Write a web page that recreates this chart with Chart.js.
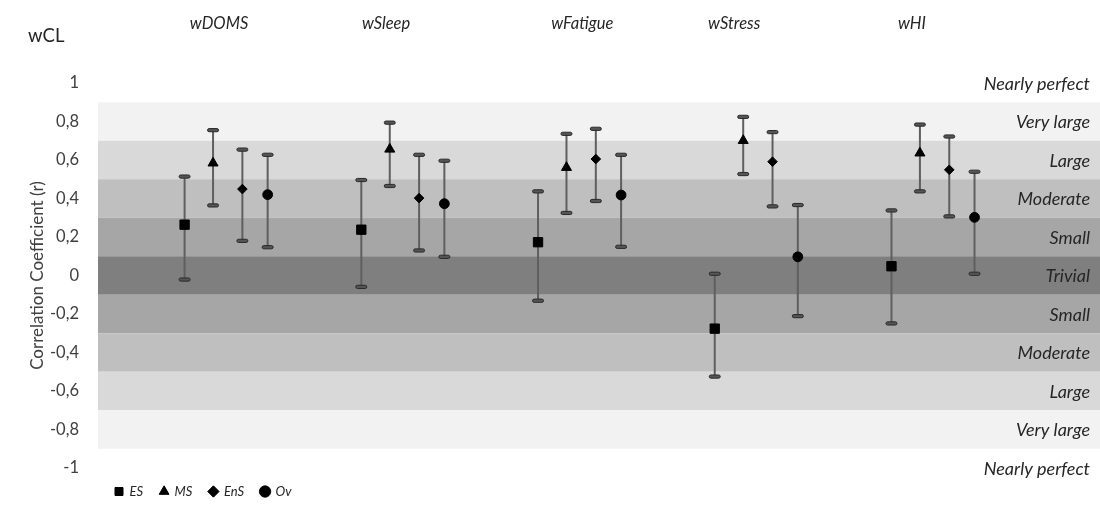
<!DOCTYPE html>
<html><head><meta charset="utf-8">
<script src="https://cdn.jsdelivr.net/npm/chart.js@4.4.1/dist/chart.umd.min.js"></script>
<style>html,body{margin:0;padding:0;background:#fff;}#wrap{width:1100px;height:508px;position:relative;}</style>
</head><body><div id="wrap"><canvas id="c"></canvas></div>
<script>
// ---- data ----
const categories = ['wDOMS', 'wSleep', 'wFatigue', 'wStress', 'wHI'];
const seriesNames = ['ES', 'MS', 'EnS', 'Ov'];
const esVals  = [0.264, 0.238, 0.173, -0.276, 0.048];
const esLow   = [-0.021, -0.059, -0.131, -0.525, -0.249];
const esHigh  = [0.514, 0.496, 0.437, 0.009, 0.338];
const msVals  = [0.584, 0.656, 0.561, 0.701, 0.636];
const msLow   = [0.364, 0.465, 0.325, 0.527, 0.437];
const msHigh  = [0.755, 0.794, 0.736, 0.824, 0.784];
const ensVals = [0.449, 0.402, 0.605, 0.591, 0.549];
const ensLow  = [0.180, 0.130, 0.387, 0.359, 0.307];
const ensHigh = [0.654, 0.627, 0.762, 0.745, 0.722];
const ovVals  = [0.420, 0.373, 0.418, 0.097, 0.302];
const ovLow   = [0.147, 0.097, 0.149, -0.211, 0.009];
const ovHigh  = [0.627, 0.596, 0.627, 0.366, 0.539];
const yTickValues = [1, 0.8, 0.6, 0.4, 0.2, 0, -0.2, -0.4, -0.6, -0.8, -1];
const bandEdges = [0.9, 0.7, 0.5, 0.3, 0.1, -0.1, -0.3, -0.5, -0.7, -0.9];
const bandLabels = ['Nearly perfect', 'Very large', 'Large', 'Moderate', 'Small', 'Trivial', 'Small', 'Moderate', 'Large', 'Very large', 'Nearly perfect'];
const bandLabelValues = [1, 0.8, 0.6, 0.4, 0.2, 0, -0.2, -0.4, -0.6, -0.8, -1];
const cornerLabel = 'wCL';
const yTitle = 'Correlation Coefficient (r)';

// ---- layout / style ----
const seriesOffsets = [0, 0.161, 0.327, 0.47];
const headerOffsets = [0.195, 0.14, 0.25, 0.11, 0.116];
const bandColors = ['#f2f2f2', '#d9d9d9', '#bfbfbf', '#a6a6a6', '#7f7f7f', '#a6a6a6', '#bfbfbf', '#d9d9d9', '#f2f2f2'];
const pointStyles = ['rect', 'triangle', 'rectRot', 'circle'];
const pointRadii = [6.6, 5.8, 4.8, 4.9];
const FONT = 'Lato, "Open Sans", sans-serif';

const vals = [esVals, msVals, ensVals, ovVals];
const lows = [esLow, msLow, ensLow, ovLow];
const highs = [esHigh, msHigh, ensHigh, ovHigh];

const datasets = seriesNames.map((name, s) => ({
  label: name,
  data: categories.map((c, g) => ({x: g + seriesOffsets[s], y: vals[s][g]})),
  pointStyle: pointStyles[s],
  pointRadius: pointRadii[s],
  pointHoverRadius: pointRadii[s],
  backgroundColor: '#000',
  borderColor: '#000',
  borderWidth: 1,
  showLine: false
}));

const fmt = v => {
  const r = Math.round(v * 10) / 10;
  if (Number.isInteger(r)) return String(r);
  return r.toFixed(1).replace('.', ',');
};

const decor = {
  id: 'decor',
  beforeDatasetsDraw(chart) {
    const {ctx, chartArea: a, scales: {x, y}} = chart;
    ctx.save();
    for (let i = 0; i < bandEdges.length - 1; i++) {
      const t = y.getPixelForValue(bandEdges[i]);
      const b = y.getPixelForValue(bandEdges[i + 1]);
      ctx.fillStyle = bandColors[i];
      ctx.fillRect(a.left, t, a.right - a.left, b - t);
    }
    ctx.font = 'italic 18px ' + FONT;
    ctx.fillStyle = '#262626';
    ctx.textAlign = 'right';
    ctx.textBaseline = 'middle';
    bandLabels.forEach((s, i) => ctx.fillText(s, a.right - 10, y.getPixelForValue(bandLabelValues[i]) + 1));
    // error bars
    for (let s = 0; s < seriesNames.length; s++) {
      categories.forEach((c, g) => {
        const px = x.getPixelForValue(g + seriesOffsets[s]);
        const pl = y.getPixelForValue(lows[s][g]);
        const ph = y.getPixelForValue(highs[s][g]);
        ctx.strokeStyle = '#5f5f5f';
        ctx.lineWidth = 2;
        ctx.beginPath();
        ctx.moveTo(px, ph);
        ctx.lineTo(px, pl);
        ctx.stroke();
        [pl, ph].forEach(py => {
          ctx.beginPath();
          ctx.roundRect(px - 5.5, py - 1.6, 11, 3.2, 1.6);
          ctx.fillStyle = '#555555';
          ctx.fill();
          ctx.lineWidth = 1;
          ctx.strokeStyle = '#2a2a2a';
          ctx.stroke();
        });
      });
    }
    ctx.restore();
  },
  afterDraw(chart) {
    const {ctx, scales: {x}} = chart;
    ctx.save();
    ctx.fillStyle = '#262626';
    ctx.textBaseline = 'alphabetic';
    ctx.textAlign = 'center';
    ctx.font = 'italic 16.5px ' + FONT;
    categories.forEach((c, g) => ctx.fillText(c, x.getPixelForValue(g + headerOffsets[g]), 29));
    ctx.textAlign = 'left';
    ctx.font = '18.5px ' + FONT;
    ctx.fillText(cornerLabel, 28, 42);
    ctx.restore();
  }
};

new Chart(document.getElementById('c'), {
  type: 'scatter',
  data: {datasets},
  plugins: [decor],
  options: {
    responsive: true,
    maintainAspectRatio: false,
    animation: false,
    events: [],
    layout: {autoPadding: false, padding: {top: 83, right: 0, left: 0, bottom: 0}},
    scales: {
      x: {type: 'linear', display: false, min: -0.49, max: 5.18},
      y: {
        type: 'linear', min: -1, max: 1,
        afterFit: s => { s.width = 98; },
        afterBuildTicks: s => { s.ticks = yTickValues.map(v => ({value: v})); },
        grid: {display: false, drawTicks: false},
        border: {display: false},
        ticks: {padding: 19, color: '#404040', font: {family: FONT, size: 16.5}, callback: v => fmt(v)},
        title: {display: true, text: yTitle, color: '#404040', font: {family: FONT, size: 17}, padding: {top: 27, bottom: 0}}
      }
    },
    plugins: {
      tooltip: {enabled: false},
      legend: {
        position: 'bottom', align: 'start', fullSize: false,
        labels: {usePointStyle: true, boxWidth: 8, boxHeight: 8, padding: 17, color: '#262626',
                 font: {family: FONT, size: 13, style: 'italic'}}
      }
    }
  }
});
</script></body></html>
